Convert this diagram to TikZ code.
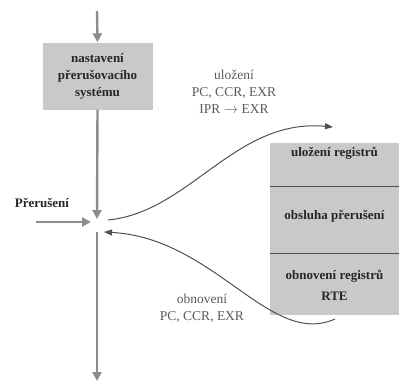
\documentclass[tikz,border=0pt]{standalone}
\usepackage{fontspec}
\setmainfont{Liberation Serif}
\usepackage{xcolor}
\usetikzlibrary{
    arrows.meta,
    calc,
    positioning
}
\definecolor{flowgrey}{HTML}{8C8C8C}
\definecolor{boxgrey}{HTML}{C9C9C9}
\definecolor{curvegrey}{HTML}{505050}
\definecolor{labelgrey}{HTML}{5A5A5A}
\tikzset{
    flow/.style={draw=flowgrey, line width=2.4pt, -{Triangle[width=9pt,length=9pt]}},
    jump/.style={draw=curvegrey, line width=1pt, -{Triangle[width=6pt,length=8pt]}},
    greybox/.style={fill=boxgrey, inner sep=0pt, minimum width=129pt},
    boxtext/.style={font=\fontsize{13}{21}\selectfont\bfseries, text=black!85, align=center},
    regtext/.style={font=\fontsize{13.5}{17}\selectfont, text=labelgrey, align=center}
}

\begin{document}
\begin{tikzpicture}[x=1pt, y=-1pt]
    \useasboundingbox (0, 0) rectangle (399, 383);
    \node[fill=boxgrey, minimum width=110pt, minimum height=67pt, inner sep=0pt,
        boxtext, font=\fontsize{13}{17}\selectfont\bfseries] (setup) at (97.5, 76)
        {nastavení\\přerušovacího\\systému};
    \node[greybox, minimum height=43pt] (save) at (334.5, 164.5) {};
    \node[greybox, minimum height=67pt] (handle) at (334.5, 219.5) {};
    \node[greybox, minimum height=62pt] (restore) at (334.5, 284) {};
    \draw[curvegrey, line width=1pt]
    (save.south west) -- (save.south east)
    (handle.south west) -- (handle.south east);
    \node[boxtext] (savet) at (334.5, 153) {uložení registrů};
    \node[boxtext] (handlet) at (334.5, 216) {obsluha přerušení};
    \node[boxtext] (restoret) at (334.5, 285) {obnovení registrů\\RTE};
    \node[boxtext, font=\fontsize{13}{16}\selectfont\bfseries] (irq) at (42, 203) {Přerušení};
    \node[regtext] (savelbl) at (234, 92) {uložení\\PC, CCR, EXR\\IPR $\rightarrow$ EXR};
    \node[regtext] (restorelbl) at (202, 308) {obnovení\\PC, CCR, EXR};
    \coordinate (start) at (97, 11);
    \coordinate (hit) at (97, 219);
    \coordinate (resume) at (97, 232);
    \coordinate (finish) at (97, 381);
    \coordinate (irqin) at (36, 222);
    \coordinate (irqhit) at (91, 222);
    \coordinate (out) at (108, 220);
    \coordinate (outend) at (333, 127);
    \coordinate (back) at (335, 319);
    \coordinate (backend) at (104, 232);
    \draw
    (start) edge[flow] (setup.north)
    (setup.south) edge[flow] (hit)
    (resume) edge[flow] (finish)
    (irqin) edge[flow] (irqhit);
    \draw[jump] (out) .. controls (190, 212) and (235, 118) .. (outend);
    \draw[jump] (back) .. controls (270, 348) and (215, 238) .. (backend);
\end{tikzpicture}
\end{document}
